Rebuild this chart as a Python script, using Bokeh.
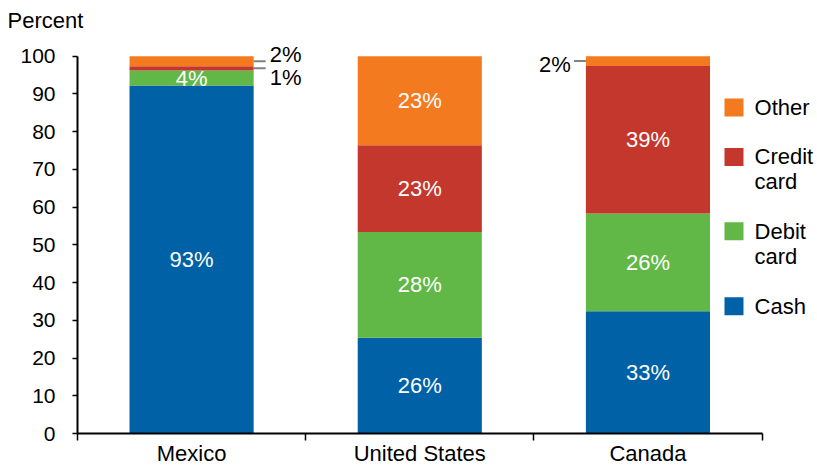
import numpy as np
from bokeh.plotting import figure
from bokeh.models import ColumnDataSource, Range1d, FixedTicker, LabelSet, Label
from bokeh.core.properties import value
from bokeh.embed import file_html
from bokeh.resources import INLINE

# ---------------- data ----------------
categories = ["Mexico", "United States", "Canada"]
series_names = ["Cash", "Debit card", "Credit card", "Other"]
cash = [92.2, 25.4, 32.4]
debit = [4.0, 28.0, 25.9]
credit = [1.15, 23.0, 39.1]
other = [2.65, 23.6, 2.6]
cash_labels = ["93%", "26%", "33%"]
debit_labels = ["4%", "28%", "26%"]
credit_labels = ["1%", "23%", "39%"]
other_labels = ["2%", "23%", "2%"]
y_ticks = [0, 10, 20, 30, 40, 50, 60, 70, 80, 90, 100]
y_title = "Percent"

# ---------------- style / layout ----------------
colors = ["#0061A6", "#62B847", "#C4372D", "#F47A20"]
FONT = "Liberation Sans"
BAR_W = 0.544
X_END = 2.743      # frame runs past the last category so the legend fits inside it
Y_END = 106.27     # frame runs above 100 so small labels are not clipped
# outside labels: (category idx, series idx) -> (side, y offset px)
outside = {(0, 3): ("right", 7), (0, 2): ("right", -9), (2, 3): ("left", -3)}

x = list(range(len(categories)))
keys = ["cash", "debit", "credit", "other"]
values = [cash, debit, credit, other]
labels = [cash_labels, debit_labels, credit_labels, other_labels]

p = figure(width=817, height=468, x_range=Range1d(-0.5, X_END), y_range=Range1d(0, Y_END),
           output_backend="svg", toolbar_location=None,
           min_border_left=77, min_border_right=0, min_border_top=32, min_border_bottom=34)
p.outline_line_color = None
p.xgrid.grid_line_color = None
p.ygrid.grid_line_color = None
p.background_fill_color = "white"

src = ColumnDataSource(dict(x=x, **{k: v for k, v in zip(keys, values)}))
p.vbar_stack(keys, x="x", width=BAR_W, fill_color=colors, line_color=None, source=src)

# segment labels
in_x, in_y, in_t = [], [], []
out = {"right": dict(x=[], y=[], t=[], dy=[]), "left": dict(x=[], y=[], t=[], dy=[])}
bottoms = np.zeros(len(categories))
for j, vals in enumerate(values):
    for i in range(len(categories)):
        v = vals[i]
        c = bottoms[i] + v / 2.0
        if (i, j) in outside:
            side, dy = outside[(i, j)]
            edge = x[i] + BAR_W / 2 if side == "right" else x[i] - BAR_W / 2
            out[side]["x"].append(edge)
            out[side]["y"].append(c)
            out[side]["t"].append(labels[j][i])
            out[side]["dy"].append(dy)
        else:
            in_x.append(x[i]); in_y.append(c); in_t.append(labels[j][i])
    bottoms += np.array(vals)

in_src = ColumnDataSource(dict(x=in_x, y=in_y, t=in_t))
p.add_layout(LabelSet(x="x", y="y", text="t", source=in_src, text_align="center",
                      text_baseline="middle", text_color="white", text_font=value(FONT),
                      text_font_size="22px"))

for side, d in out.items():
    if not d["x"]:
        continue
    s = ColumnDataSource(dict(x=d["x"], y=d["y"], t=d["t"], dy=d["dy"]))
    ang = 0.0 if side == "right" else np.pi
    p.ray(x="x", y="y", length=12, angle=ang, length_units="screen", line_color="#808080",
          line_width=2, source=s)
    p.add_layout(LabelSet(x="x", y="y", text="t", source=s, y_offset="dy",
                          x_offset=16 if side == "right" else -15,
                          text_align="left" if side == "right" else "right",
                          text_baseline="middle", text_color="black", text_font=value(FONT),
                          text_font_size="22px"))

# axes
p.xaxis.bounds = (-0.5, 2.5)
p.xaxis.ticker = FixedTicker(ticks=x, minor_ticks=[-0.5, 0.5, 1.5, 2.5])
p.xaxis.major_label_overrides = {i: c for i, c in zip(x, categories)}
p.xaxis.major_label_text_font = FONT
p.xaxis.major_label_text_font_size = "22px"
p.xaxis.major_label_text_color = "black"
p.xaxis.major_label_standoff = 0
p.xaxis.major_tick_out = 0
p.xaxis.major_tick_in = 0
p.xaxis.minor_tick_out = 7
p.xaxis.minor_tick_in = 0
p.xaxis.minor_tick_line_width = 1.5
p.xaxis.minor_tick_line_color = "black"
p.xaxis.axis_line_width = 2
p.xaxis.axis_line_color = "black"

p.yaxis.bounds = (0, 100)
p.yaxis.ticker = FixedTicker(ticks=y_ticks)
p.yaxis.minor_tick_line_color = None
p.yaxis.major_tick_out = 5
p.yaxis.major_tick_in = 0
p.yaxis.major_tick_line_width = 1.5
p.yaxis.major_tick_line_color = "black"
p.yaxis.axis_line_width = 2
p.yaxis.axis_line_color = "black"
p.yaxis.major_label_text_font = FONT
p.yaxis.major_label_text_font_size = "21px"
p.yaxis.major_label_text_color = "black"
p.yaxis.major_label_standoff = 17

# y title as plot title, shifted to the left edge
p.title.text = y_title
p.title.align = "left"
p.title.offset = -70
p.title.standoff = 0
p.title.text_font = FONT
p.title.text_font_size = "22px"
p.title.text_font_style = "normal"
p.title.text_color = "black"

# legend (manual, to allow two-line labels)
leg_x_sq = 2.377
leg_x_tx = 2.467
leg_y = [86.4, 73.3, 53.6, 33.7]   # positions of Other, Credit, Debit, Cash
leg_names = ["Other", "Credit\ncard", "Debit\ncard", "Cash"]
leg_cols = [colors[3], colors[2], colors[1], colors[0]]
p.rect(x=[leg_x_sq] * 4, y=leg_y, width=19, height=18, width_units="screen",
       height_units="screen", fill_color=leg_cols, line_color=None)
line_gap = 25 / 3.778
for yy, name in zip(leg_y, leg_names):
    for k, part in enumerate(name.split("\n")):
        p.add_layout(Label(x=leg_x_tx, y=yy - k * line_gap, text=part, text_align="left",
                           text_baseline="middle", text_font=FONT, text_font_size="22px",
                           text_color="black"))

open("out.html", "w").write(file_html(p, INLINE))
